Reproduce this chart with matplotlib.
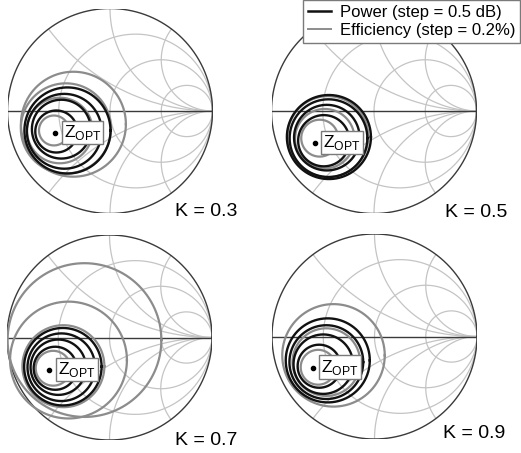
import numpy as np
import matplotlib
matplotlib.use("Agg")
import matplotlib.pyplot as plt
from matplotlib.lines import Line2D

plt.rcParams['font.family'] = ['Liberation Sans', 'DejaVu Sans']
plt.rcParams['mathtext.fontset'] = 'custom'
plt.rcParams['mathtext.rm'] = 'Liberation Sans'

# Smith chart grid values
grid_resistance = [1 / 3, 1.0, 3.0]
grid_reactance = [0.5, 1.0, 2.0]

# Stability factor of each panel
k_values = [0.3, 0.5, 0.7, 0.9]

# Optimum load (reflection coefficient, real / imag) per panel
zopt_re = [-0.535, -0.58, -0.587, -0.604]
zopt_im = [-0.217, -0.31, -0.317, -0.303]

# Contours as circles in the reflection plane: (centre re, centre im, radius)
power_k03 = [(-0.415, -0.19, 0.42), (-0.446, -0.198, 0.365), (-0.475, -0.177, 0.287), (-0.524, -0.2, 0.205)]
eff_k03 = [(-0.357, -0.129, 0.512), (-0.43, -0.17, 0.44), (-0.49, -0.19, 0.32), (-0.547, -0.19, 0.146)]

power_k05 = [(-0.44, -0.254, 0.41), (-0.444, -0.265, 0.379), (-0.46, -0.26, 0.32), (-0.49, -0.29, 0.25)]
eff_k05 = [(-0.45, -0.25, 0.395), (-0.48, -0.27, 0.29), (-0.53, -0.265, 0.18)]

power_k07 = [(-0.455, -0.285, 0.378), (-0.47, -0.29, 0.33), (-0.5, -0.29, 0.27), (-0.53, -0.3, 0.21)]
eff_k07 = [(-0.244, -0.025, 0.75), (-0.40, -0.22, 0.57), (-0.45, -0.28, 0.40), (-0.55, -0.3, 0.17)]

power_k09 = [(-0.456, -0.233, 0.41), (-0.47, -0.25, 0.36), (-0.5, -0.27, 0.29), (-0.54, -0.29, 0.21)]
eff_k09 = [(-0.4, -0.184, 0.50), (-0.47, -0.25, 0.33), (-0.55, -0.3, 0.17)]

power_sets = [power_k03, power_k05, power_k07, power_k09]
eff_sets = [eff_k03, eff_k05, eff_k07, eff_k09]

W, H = 521, 453
fig = plt.figure(figsize=(W / 100, H / 100), dpi=100)

# panel centres in pixels (from top-left) and chart radius
centres = [(110, 111), (374, 111), (109.5, 337.5), (374.5, 336.5)]
R = 102.5
label_pos = [(237, 216), (507, 217), (237, 445), (505, 438)]

GRID_C = '#c4c4c4'
EDGE_C = '#3a3a3a'
POWER_C = '#111111'
EFF_C = '#8c8c8c'

t = np.linspace(0, 2 * np.pi, 721)


def draw_grid(ax):
    for r in grid_resistance:
        c, rad = r / (1 + r), 1 / (1 + r)
        ax.plot(c + rad * np.cos(t), rad * np.sin(t), color=GRID_C, lw=0.9, zorder=1)
    for x in grid_reactance:
        for s in (1, -1):
            cy, rad = s / x, 1 / x
            px = 1 + rad * np.cos(t)
            py = cy + rad * np.sin(t)
            inside = px ** 2 + py ** 2 <= 1.0 + 1e-9
            px = np.where(inside, px, np.nan)
            py = np.where(inside, py, np.nan)
            ax.plot(px, py, color=GRID_C, lw=0.9, zorder=1)
    ax.plot(np.cos(t), np.sin(t), color=EDGE_C, lw=1.0, zorder=2)
    ax.plot([-1, 1], [0, 0], color=EDGE_C, lw=1.0, zorder=2)


for i, k in enumerate(k_values):
    cx, cy = centres[i]
    ax = fig.add_axes([(cx - R) / W, (H - cy - R) / H, 2 * R / W, 2 * R / H])
    ax.set_xlim(-1, 1)
    ax.set_ylim(-1, 1)
    ax.axis('off')
    draw_grid(ax)
    for (u, v, rho) in eff_sets[i]:
        ax.plot(u + rho * np.cos(t), v + rho * np.sin(t), color=EFF_C, lw=1.6, zorder=3)
    for (u, v, rho) in power_sets[i]:
        ax.plot(u + rho * np.cos(t), v + rho * np.sin(t), color=POWER_C, lw=1.7, zorder=4)
    ax.plot(zopt_re[i], zopt_im[i], marker='o', ms=3.0, color='black', zorder=6)
    ax.text(zopt_re[i] + 0.085, zopt_im[i] + 0.005, r'Z$_{\mathregular{OPT}}$', fontsize=12.5,
            ha='left', va='center', zorder=7,
            bbox=dict(boxstyle='square,pad=0.12', fc='white', ec='#7a7a7a', lw=1.0))
    lx, ly = label_pos[i]
    fig.text(lx / W, 1 - ly / H, f'K = {k}', fontsize=14, ha='right', va='baseline')

handles = [Line2D([], [], color=POWER_C, lw=1.8), Line2D([], [], color=EFF_C, lw=1.4)]
leg = fig.legend(handles, ['Power (step = 0.5 dB)', 'Efficiency (step = 0.2%)'],
                 loc='upper right', bbox_to_anchor=(520 / W, 1.0), fontsize=12,
                 frameon=True, fancybox=False, edgecolor='#7a7a7a', framealpha=1,
                 handlelength=1.4, handletextpad=0.5, borderpad=0.3, labelspacing=0.2,
                 borderaxespad=0.0)
leg.get_frame().set_linewidth(1.0)
leg.set_zorder(10)

fig.savefig('out.png', dpi=100)
